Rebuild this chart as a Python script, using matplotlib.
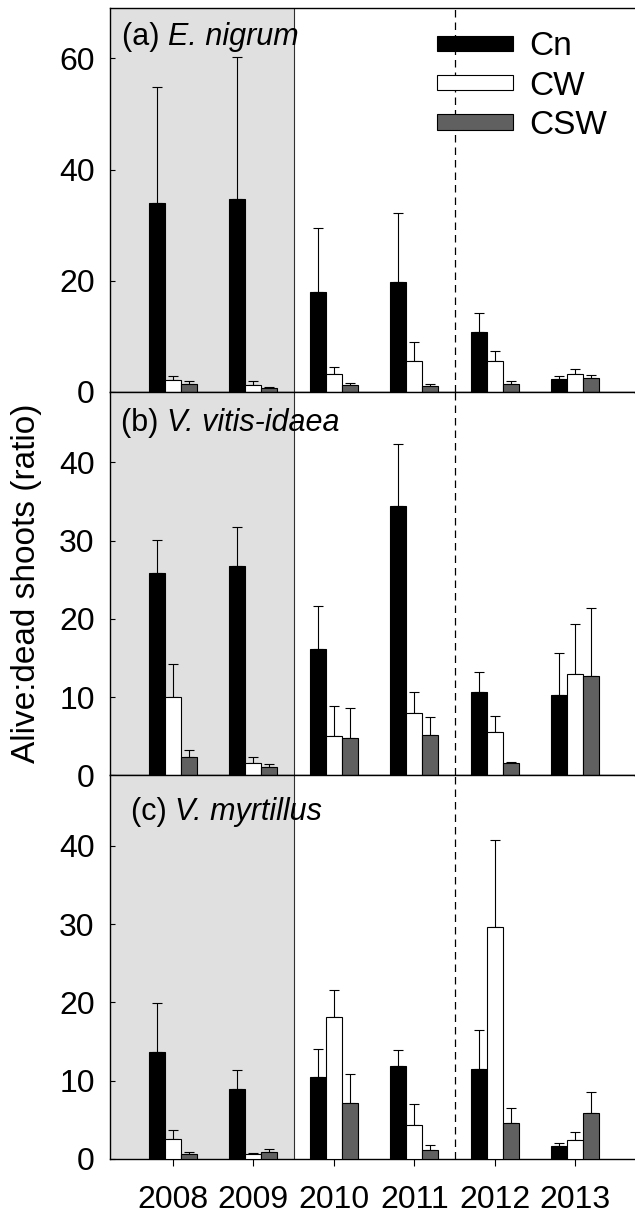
import matplotlib
matplotlib.use('Agg')
import matplotlib.pyplot as plt
import numpy as np

# Fonts
plt.rcParams['font.family'] = 'Liberation Sans'

years = ['2008', '2009', '2010', '2011', '2012', '2013']
treatments = ['Cn', 'CW', 'CSW']
colors = ['black', 'white', '#606060']

# (a) E. nigrum - means and upper SE
a_cn = [34.0, 34.7, 18.0, 19.7, 10.8, 2.35]
a_cn_se = [20.8, 25.5, 11.4, 12.5, 3.3, 0.45]
a_cw = [2.2, 1.3, 3.25, 5.5, 5.5, 3.25]
a_cw_se = [0.6, 0.6, 1.15, 3.5, 1.9, 0.9]
a_csw = [1.45, 0.7, 1.2, 1.0, 1.45, 2.5]
a_csw_se = [0.45, 0.2, 0.4, 0.45, 0.45, 0.6]

# (b) V. vitis-idaea
b_cn = [25.9, 26.8, 16.15, 34.4, 10.6, 10.3]
b_cn_se = [4.2, 4.95, 5.45, 7.9, 2.65, 5.4]
b_cw = [10.0, 1.6, 5.0, 7.95, 5.6, 12.9]
b_cw_se = [4.2, 0.8, 3.9, 2.65, 2.0, 6.5]
b_csw = [2.4, 1.07, 4.8, 5.2, 1.6, 12.7]
b_csw_se = [0.8, 0.43, 3.8, 2.3, 0.15, 8.75]

# (c) V. myrtillus
c_cn = [13.7, 8.95, 10.5, 11.9, 11.55, 1.6]
c_cn_se = [6.2, 2.45, 3.5, 2.0, 4.95, 0.5]
c_cw = [2.56, 0.6, 18.1, 4.4, 29.6, 2.4]
c_cw_se = [1.14, 0.2, 3.5, 2.6, 11.1, 1.0]
c_csw = [0.6, 0.94, 7.2, 1.15, 4.56, 5.9]
c_csw_se = [0.3, 0.3, 3.6, 0.6, 1.94, 2.6]

panels = [
    ('(a) ', 'E. nigrum', [a_cn, a_cw, a_csw], [a_cn_se, a_cw_se, a_csw_se], 69, [0, 20, 40, 60]),
    ('(b) ', 'V. vitis-idaea', [b_cn, b_cw, b_csw], [b_cn_se, b_cw_se, b_csw_se], 49, [0, 10, 20, 30, 40]),
    ('(c) ', 'V. myrtillus', [c_cn, c_cw, c_csw], [c_cn_se, c_cw_se, c_csw_se], 49, [0, 10, 20, 30, 40]),
]
label_pos = [(0.023, 0.925), (0.021, 0.918), (0.04, 0.905)]

fig, axs = plt.subplots(3, 1, figsize=(6.35, 12.19), dpi=100, sharex=True)
fig.subplots_adjust(left=110 / 635, right=634 / 635, top=1 - 8.3 / 1219,
                    bottom=1 - 1159 / 1219, hspace=0)

x = np.arange(len(years))
width = 0.2
offsets = [-0.2, 0.0, 0.2]
xmin, xmax = -0.78, 5.73

for i, (ax, (tag, species, means, ses, ymax, yticks)) in enumerate(zip(axs, panels)):
    # Shaded pre-treatment years
    ax.axvspan(xmin, 1.5, color='#e0e0e0', zorder=0, lw=0)
    ax.axvline(1.5, color='#303030', lw=0.8, zorder=1)
    ax.axvline(3.5, color='black', lw=0.9, ls=(0, (6, 4)), zorder=1)

    for j in range(3):
        ax.bar(x + offsets[j], means[j], width, color=colors[j], edgecolor='black',
               linewidth=0.8, label=treatments[j], zorder=3,
               yerr=[np.zeros(len(years)), ses[j]],
               error_kw=dict(ecolor='black', elinewidth=0.8, capsize=3.5, capthick=0.8, zorder=2))

    ax.set_xlim(xmin, xmax)
    ax.set_ylim(0, ymax)
    ax.set_yticks(yticks)
    ax.tick_params(axis='y', direction='in', length=3.5, width=0.8, labelsize=23, pad=11)
    ax.spines['right'].set_visible(False)
    for s in ['left', 'top', 'bottom']:
        ax.spines[s].set_linewidth(1.0)

    # panel label: plain tag followed by italic species name
    t = ax.text(label_pos[i][0], label_pos[i][1], tag, transform=ax.transAxes,
                fontsize=22, va='center', ha='left', zorder=5)
    ax.annotate(species, xy=(1, 0), xycoords=t, va='bottom', ha='left',
                fontsize=22, fontstyle='italic', zorder=5)

    if i < 2:
        ax.tick_params(axis='x', bottom=False, labelbottom=False)

axs[2].set_xticks(x)
axs[2].set_xticklabels(years)
axs[2].tick_params(axis='x', direction='out', length=5, width=0.8, labelsize=23, pad=14)

axs[0].legend(loc='upper left', bbox_to_anchor=(0.624, 0.94), frameon=False, fontsize=24,
              handlelength=2.28, handleheight=0.33, handletextpad=0.5, labelspacing=0.25,
              borderpad=0, borderaxespad=0)

fig.text(27 / 635, 1 - 583 / 1219, 'Alive:dead shoots (ratio)', rotation=90,
         fontsize=24, ha='center', va='center')

plt.savefig('out.png', dpi=100)
